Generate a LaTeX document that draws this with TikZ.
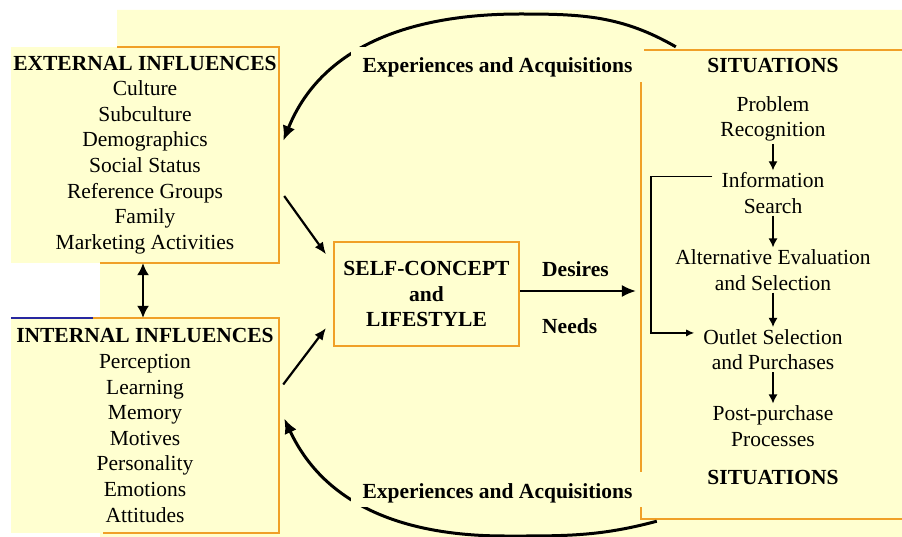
\documentclass[tikz,border=0pt]{standalone}
\usepackage{fontspec}
\setmainfont{Liberation Serif}
\usepackage{xcolor}
\usepackage{tikz}
\usetikzlibrary{arrows.meta}

\definecolor{paper}{RGB}{255,255,208}
\definecolor{bordo}{RGB}{240,160,40}
\definecolor{linea}{RGB}{40,40,160}

\tikzset{
  testo/.style={font=\fontsize{21.5}{25.6}\selectfont, align=center, inner sep=0pt},
  riquadro/.style={testo, fill=paper, minimum width=268pt, minimum height=216pt},
  fase/.style={testo, inner xsep=9pt, inner ysep=2pt},
  etichetta/.style={testo, anchor=base, fill=paper, text height=26pt, text depth=9pt, inner xsep=12pt},
  cornice/.style={draw=bordo, line width=2pt},
  arco/.style={line width=3pt, -{Latex[length=15pt,width=13pt]}},
  freccia/.style={line width=2.2pt, -{Latex[length=12pt,width=10pt]}},
  passo/.style={line width=1.3pt, -{Latex[length=9pt,width=9pt]}}
}

\begin{document}
\begin{tikzpicture}[x=1pt, y=-1pt]
% Modello del comportamento del consumatore: influenze, concetto di se' e situazioni
\useasboundingbox (0,0) rectangle (902,537);
\fill[paper] (117,10) -| (902,537) -| (100,263) -| (117,10) -- cycle;

\node[fill=paper, minimum width=264pt, minimum height=469pt, inner sep=0pt] (sit) at (773,284.5) {};
\node[riquadro] (ext) at (145,155) {\textbf{EXTERNAL INFLUENCES}\\Culture\\Subculture\\Demographics\\Social Status\\Reference Groups\\Family\\Marketing Activities};
\node[riquadro, minimum height=215pt] (int) at (145,425.5) {\textbf{INTERNAL INFLUENCES}\\Perception\\Learning\\Memory\\Motives\\Personality\\Emotions\\Attitudes};
\node[testo, fill=paper, draw=bordo, line width=2pt, minimum width=185pt, minimum height=104pt] (self) at (426.5,294) {\textbf{SELF-CONCEPT}\\\textbf{and}\\\textbf{LIFESTYLE}};

\draw[cornice] ([xshift=106pt]ext.north west) -- (ext.north east) -- (ext.south east) -- ([xshift=89pt]ext.south west);
\draw[cornice] ([xshift=82pt]int.north west) -- (int.north east) -- (int.south east) -- ([xshift=92pt]int.south west);
\draw[line width=2pt, linea] (int.north west) -- ([xshift=82pt]int.north west);
\draw[cornice] (sit.north east) -- (sit.north west) -- (sit.south west) -- (sit.south east);

\node[testo] (sittop) at (773,65.5) {\textbf{SITUATIONS}};
\node[fase] (recog) at (773,119) {Problem\\Recognition};
\node[fase] (search) at (773,193) {Information\\Search};
\node[fase] (evalsel) at (773,270) {Alternative Evaluation\\and Selection};
\node[fase] (outlet) at (773,349.5) {Outlet Selection\\and Purchases};
\node[fase] (post) at (773,426) {Post-purchase\\Processes};
\node[testo] (sitbot) at (773,477.5) {\textbf{SITUATIONS}};

\draw[passo] (recog) -- (search);
\draw[passo] (search) -- (evalsel);
\draw[passo] (evalsel) -- (outlet);
\draw[passo] (outlet) -- (post);
\coordinate (ritorno) at (651,250);
\draw[line width=1.3pt, -{Latex[length=8pt,width=7pt]}] ([yshift=-6pt]search.north west) -| (ritorno) |- ([yshift=-6pt]outlet.north west);

\node[testo, anchor=base west] (desires) at (542,277) {\textbf{Desires}};
\node[testo, anchor=base west] (needs) at (542,333) {\textbf{Needs}};
\draw[line width=1.5pt, -{Latex[length=14pt,width=12pt]}, shorten >=5pt] ([yshift=3pt]self.east) -- ([yshift=3pt]self.east -| sit.west);

\draw[freccia] ([xshift=5pt]ext.-17) -- ([xshift=-7pt]self.157);
\draw[freccia] ([xshift=4pt]int.17) -- ([xshift=-7pt]self.200);
\draw[line width=1.8pt, {Latex[length=12pt,width=12pt]}-{Latex[length=12pt,width=12pt]}] ([xshift=-2pt]ext.south) -- ([xshift=-2pt]int.north);

\coordinate (curvasu) at (520,14);
\coordinate (curvagiu) at (505,536);
\draw[arco] ([xshift=35pt,yshift=3pt]sit.north west) to[out=150,in=0] (curvasu) to[out=180,in=68] ([xshift=4pt]ext.6);
\draw[arco] ([xshift=16pt,yshift=-2pt]sit.south west) to[out=195,in=0] (curvagiu) to[out=180,in=295] ([xshift=5pt]int.3);

\node[etichetta] (espsu) at (497.5,73) {\textbf{Experiences and Acquisitions}};
\node[etichetta] (espgiu) at (497.5,498) {\textbf{Experiences and Acquisitions}};

\end{tikzpicture}
\end{document}
